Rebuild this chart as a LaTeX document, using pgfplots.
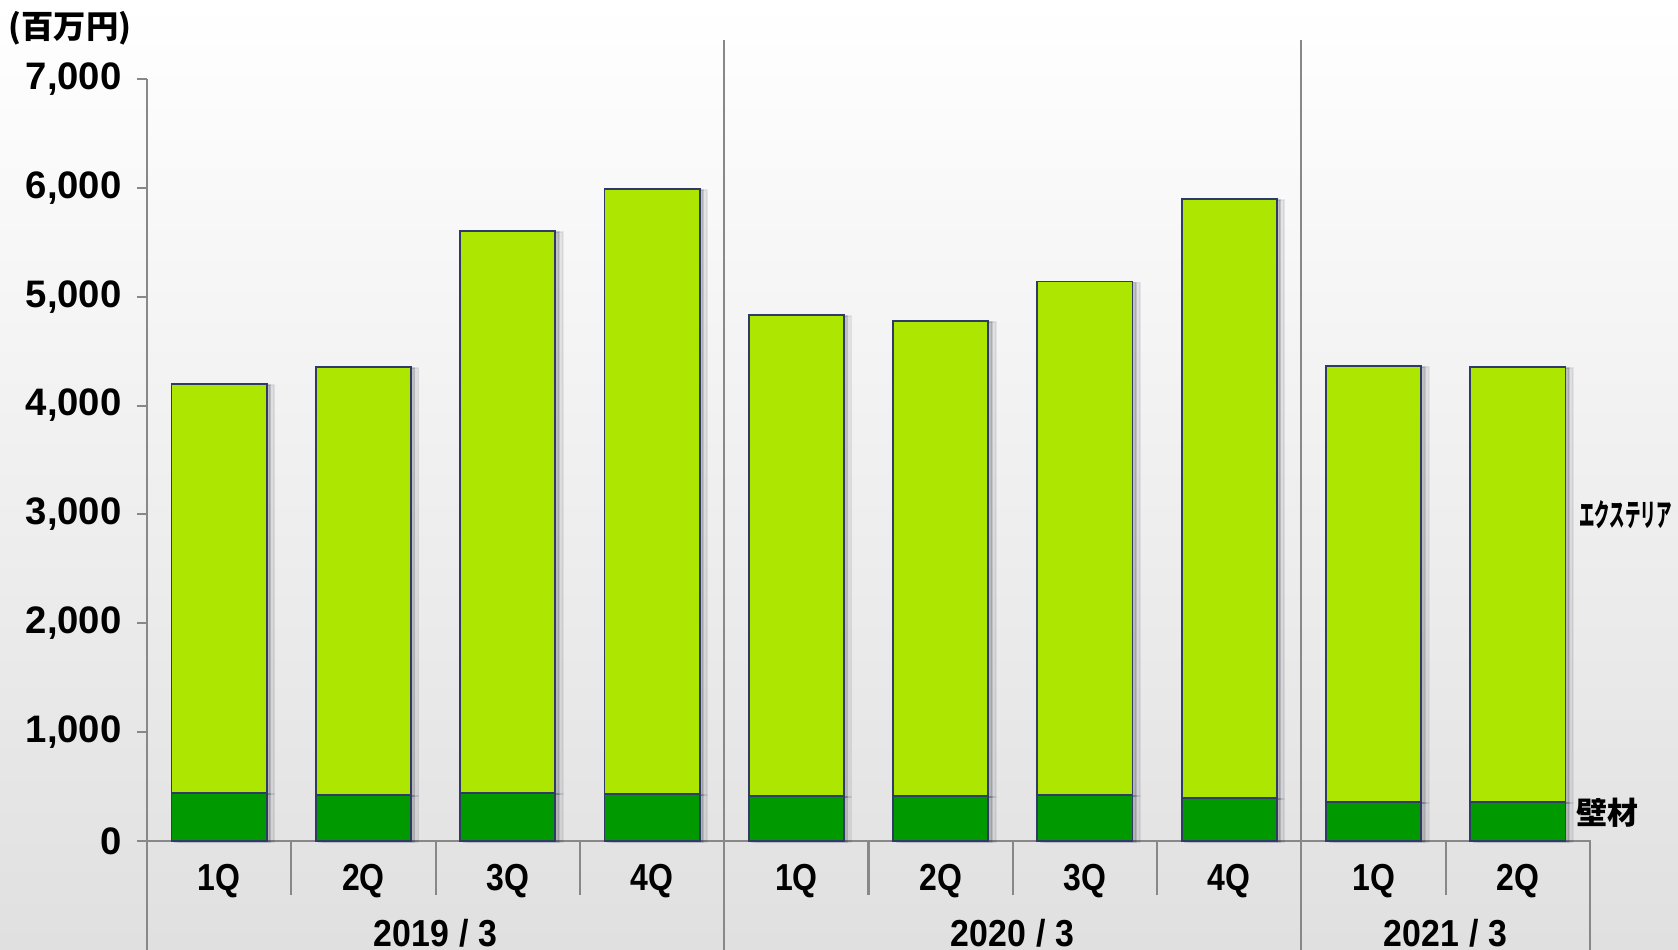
\documentclass[border=0pt]{standalone}
\usepackage{fontspec}
\setmainfont{Liberation Sans}
\newfontfamily\cjk{Noto Sans CJK JP}
\usepackage{pgfplots}
\pgfplotsset{compat=1.18}
\usetikzlibrary{shadows}
\definecolor{extgreen}{RGB}{173,230,0}
\definecolor{wallgreen}{RGB}{0,153,0}
\definecolor{barline}{RGB}{47,58,102}
\definecolor{sepgray}{RGB}{136,136,136}
\definecolor{bgbottom}{RGB}{224,224,224}
\newcommand{\cond}[1]{\scalebox{0.85}[1]{#1}}
\newcommand{\yr}[1]{\scalebox{0.9}[1]{#1\hspace{0.3em}/\hspace{0.3em}3}}
\newcommand{\catfont}{\bfseries\fontsize{10.7}{12}\selectfont}

\begin{document}
\begin{tikzpicture}
\shade[top color=white, bottom color=bgbottom] (0,0) rectangle (167.8mm,94.9mm);
\useasboundingbox (0,0) rectangle (167.8mm,94.9mm);
\begin{axis}[
    at={(14.7mm,10.8mm)}, anchor=south west,
    scale only axis, width=144.3mm, height=76.2mm,
    xmin=-0.5, xmax=9.5, ymin=0, ymax=7000,
    clip=false,
    axis line style={draw=none},
    ybar stacked, bar width=0.66,
    xtick=\empty,
    ytick={0,1000,...,7000},
    ytick pos=left,
    tick align=outside,
    major tick length=1mm,
    ytick style={sepgray, line width=0.6pt},
    /pgf/number format/1000 sep={,},
    /pgf/number format/assume math mode=true,
    yticklabel style={font=\bfseries\fontsize{10.9}{12}\selectfont, xshift=-0.3mm},
    every axis plot/.append style={draw=barline, line width=0.5pt,
        drop shadow={shadow xshift=0.35mm, shadow yshift=-0.1mm, opacity=0.14, fill=black},
        drop shadow={shadow xshift=0.75mm, shadow yshift=-0.1mm, opacity=0.08, fill=black}},
]
% 壁材
\addplot[fill=wallgreen] coordinates {(0,440) (1,420) (2,440) (3,430) (4,415) (5,415) (6,425) (7,395) (8,355) (9,355)};
% エクステリア
\addplot[fill=extgreen] coordinates {(0,3760) (1,3935) (2,5165) (3,5560) (4,4415) (5,4365) (6,4715) (7,5505) (8,4010) (9,4000)};

% frame and separators
\draw[sepgray, line width=0.6pt] (axis cs:-0.5,7000) -- (axis cs:-0.5,-1100);
\draw[sepgray, line width=0.6pt] (axis cs:-0.5,0) -- (axis cs:9.5,0) -- (axis cs:9.5,-1100);
\draw[sepgray, line width=0.6pt] (axis cs:3.5,7358) -- (axis cs:3.5,-1100);
\draw[sepgray, line width=0.6pt] (axis cs:7.5,7358) -- (axis cs:7.5,-1100);
\pgfplotsinvokeforeach{0.5,1.5,2.5,4.5,5.5,6.5,8.5}{
  \draw[sepgray, line width=0.6pt] (axis cs:#1,0) -- (axis cs:#1,-496);
}

% category labels
\node[font=\catfont] at ([yshift=-4.0mm]axis cs:0,0) {\cond{1Q}};
\node[font=\catfont] at ([yshift=-4.0mm]axis cs:1,0) {\cond{2Q}};
\node[font=\catfont] at ([yshift=-4.0mm]axis cs:2,0) {\cond{3Q}};
\node[font=\catfont] at ([yshift=-4.0mm]axis cs:3,0) {\cond{4Q}};
\node[font=\catfont] at ([yshift=-4.0mm]axis cs:4,0) {\cond{1Q}};
\node[font=\catfont] at ([yshift=-4.0mm]axis cs:5,0) {\cond{2Q}};
\node[font=\catfont] at ([yshift=-4.0mm]axis cs:6,0) {\cond{3Q}};
\node[font=\catfont] at ([yshift=-4.0mm]axis cs:7,0) {\cond{4Q}};
\node[font=\catfont] at ([yshift=-4.0mm]axis cs:8,0) {\cond{1Q}};
\node[font=\catfont] at ([yshift=-4.0mm]axis cs:9,0) {\cond{2Q}};
\node[font=\catfont] at ([yshift=-9.2mm]axis cs:1.5,0) {\yr{2019}};
\node[font=\catfont] at ([yshift=-9.2mm]axis cs:5.5,0) {\yr{2020}};
\node[font=\catfont] at ([yshift=-9.2mm]axis cs:8.5,0) {\yr{2021}};

% series labels
\node[anchor=west, inner sep=0pt, font=\cjk\bfseries\fontsize{8.8}{10}\selectfont] at (axis cs:9.42,3000) {\scalebox{0.5}[1]{エクステリア}};
\node[anchor=west, inner sep=0pt, font=\cjk\bfseries\fontsize{8.8}{10}\selectfont] at (axis cs:9.40,257) {壁材};
\end{axis}
\node[anchor=west, inner sep=0pt, font=\cjk\bfseries\fontsize{9.2}{10}\selectfont] at (0.8mm,92.1mm) {(百万円)};
\end{tikzpicture}
\end{document}
